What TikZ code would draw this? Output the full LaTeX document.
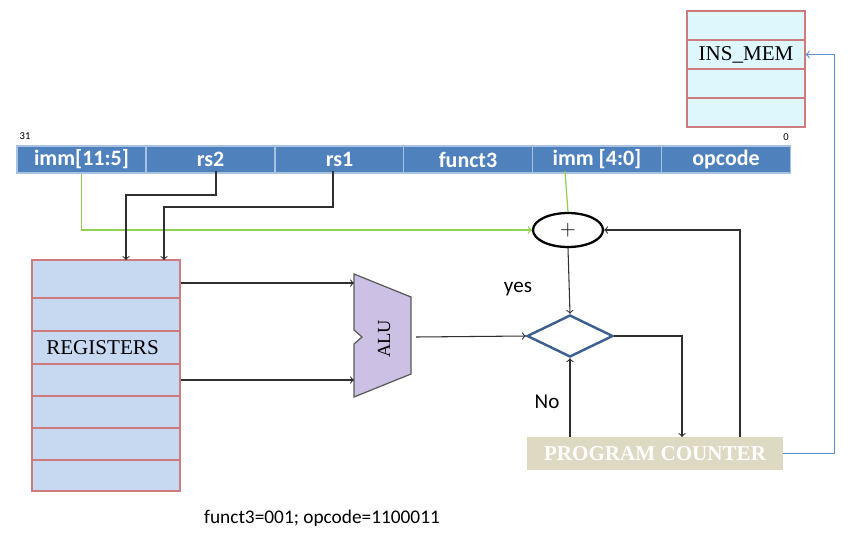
\documentclass[tikz,border=0pt]{standalone}
\usepackage{fontspec}
\setmainfont{Liberation Serif}
\newfontfamily\calibri{Carlito}
\usepackage{xcolor}
\usepackage{tikz}
\usetikzlibrary{shapes}
\usetikzlibrary{shapes.geometric}
\definecolor{fieldblue}{HTML}{4F81BD}
\definecolor{fieldline}{HTML}{A9C2E2}
\definecolor{memfill}{HTML}{DDF7FC}
\definecolor{boxred}{HTML}{CD7B7E}
\definecolor{regfill}{HTML}{C6D9F1}
\definecolor{alufill}{HTML}{CCC1E5}
\definecolor{decblue}{HTML}{3C6190}
\definecolor{pcfill}{HTML}{DDD9C3}
\definecolor{wiregreen}{HTML}{92D050}
\definecolor{wireblue}{HTML}{5F8DD3}
\definecolor{wire}{HTML}{303030}
\tikzset{
    fieldnode/.style = {rectangle, draw=fieldline, fill=fieldblue, text=white, line width=0.8pt, inner sep=0pt, minimum width=2.58cm, minimum height=0.54cm, font=\calibri\bfseries\fontsize{12.5}{14}\selectfont},
    memnode/.style = {rectangle, draw=boxred, fill=memfill, line width=0.7pt, inner sep=0pt, minimum width=2.36cm, minimum height=0.58cm, font=\fontsize{12}{14}\selectfont},
    regbox/.style = {rectangle, draw=boxred, fill=regfill, line width=0.7pt, inner sep=0pt, minimum width=2.96cm, minimum height=4.62cm},
    pcnode/.style = {rectangle, fill=pcfill, text=white, inner sep=0pt, minimum width=5.12cm, minimum height=0.66cm, font=\bfseries\fontsize{12}{14}\selectfont},
}

\begin{document}
\begin{tikzpicture}[
	x=0.02cm,
	y=-0.02cm,
	font=\calibri\fontsize{12}{14}\selectfont
]
\tikzset{
    addnode/.style = {ellipse, draw=black, fill=white, line width=1.3pt, inner sep=0pt, minimum width=1.4cm, minimum height=0.68cm, font=\fontsize{13}{15}\selectfont},
    decnode/.style = {diamond, draw=decblue, line width=1.4pt, inner sep=0pt, aspect=2, minimum width=1.72cm, minimum height=0.84cm},
    tinylabel/.style = {font=\calibri\fontsize{6}{7}\selectfont},
    edgeb/.style = {->, wire, line width=0.6pt},
    edgeg/.style = {->, wiregreen, line width=0.7pt},
    edgegn/.style = {-, wiregreen, line width=0.7pt},
    edgeu/.style = {->, wireblue, line width=0.7pt}
}
\useasboundingbox (0,0) rectangle (866,549);
% instruction word
\node[fieldnode] at (81.5,159.5) (immhi) {imm[11:5]};
\node[fieldnode] at (210.5,159.5) (rstwo) {rs2};
\node[fieldnode] at (339.5,159.5) (rsone) {rs1};
\node[fieldnode] at (468,159.5) (funct) {funct3};
\node[fieldnode] at (597,159.5) (immlo) {imm [4:0]};
\node[fieldnode] at (726,159.5) (opcode) {opcode};
\node[tinylabel] at (25,136) (msb) {31};
\node[tinylabel] at (786,137) (lsb) {0};
%
% instruction memory
\node[memnode] at (746,25.5) (mema) {};
\node[memnode] at (746,54.5) (memb) {INS\_MEM};
\node[memnode] at (746,83.5) (memc) {};
\node[memnode] at (746,112.5) (memd) {};
%
% register file
\node[regbox] at (106,375.5) (regs) {};
\draw[boxred, line width=0.7pt] (32,298) -- (180,298);
\draw[boxred, line width=0.7pt] (32,331) -- (180,331);
\draw[boxred, line width=0.7pt] (32,364) -- (180,364);
\draw[boxred, line width=0.7pt] (32,396) -- (180,396);
\draw[boxred, line width=0.7pt] (32,428) -- (180,428);
\draw[boxred, line width=0.7pt] (32,460) -- (180,460);
\node[font=\fontsize{12}{14}\selectfont] at (102.5,348) (regtext) {REGISTERS};
%
% alu
\draw[fill=alufill, draw=black!65, line width=0.7pt] (354,274) -- (411,297) -- (411,374) -- (354,397) -- (354,344) -- (362,337) -- (354,330) -- cycle;
\node[rotate=90, font=\fontsize{10.5}{12}\selectfont] at (384,339) (alu) {ALU};
\coordinate (aluina) at (354,283);
\coordinate (aluinb) at (354,380);
\coordinate (aluout) at (416,337);
%
% branch logic
\node[addnode] at (568,230) (adder) {$+$};
\node[decnode] at (570,336) (dec) {};
\node[pcnode] at (655,453.5) (pc) {PROGRAM COUNTER};
\node at (518,289) (yes) {yes};
\node at (547,402) (no) {No};
\node[font=\calibri\fontsize{11}{13}\selectfont] at (322,518) (note) {funct3=001; opcode=1100011};
%
\coordinate (immtap) at (565,171);
\coordinate (rstwotap) at (216,171);
\coordinate (rsonetap) at (333,171);
\coordinate (regina) at (126,260);
\coordinate (reginb) at (164,260);
\coordinate (pcin) at (682,437);
\coordinate (pcback) at (740,437);
%
\draw[edgeg] (immhi.south) |- (adder.west);
\draw[edgegn] (immtap) -- (adder.north);
\draw[edgeb] (rstwotap) -- ++(0,24) -| (regina);
\draw[edgeb] (rsonetap) -- ++(0,36) -| (reginb);
\draw[edgeb] (regs.east |- aluina) -- (aluina);
\draw[edgeb] (regs.east |- aluinb) -- (aluinb);
\draw[edgeb] (aluout) -- (dec.west);
\draw[edgeb] (adder.south) -- (dec.north);
\draw[edgeb] (dec.east) -| (pcin);
\draw[edgeb] (dec.south |- pc.north) -- (dec.south);
\draw[edgeb] (pcback) |- (adder.east);
\draw[edgeu] (pc.east) -- ++(51,0) |- (memb.east);
\end{tikzpicture}
\end{document}
